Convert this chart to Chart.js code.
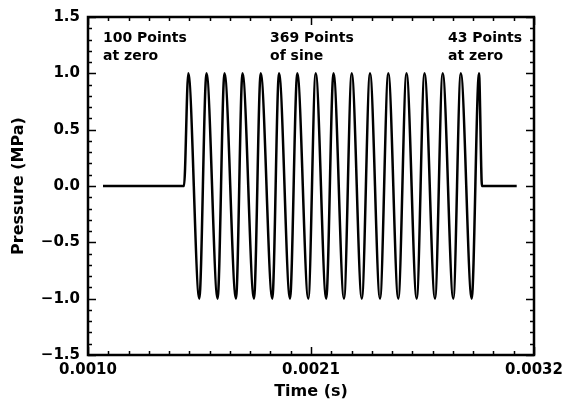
<!DOCTYPE html>
<html lang="en">
<head>
  <meta charset="UTF-8">
  <title>Pressure vs Time</title>
  <script src="https://cdn.jsdelivr.net/npm/chart.js"></script>
  <style>
    html, body { margin: 0; padding: 0; background: #fff; }
    #wrap { width: 569px; height: 403px; position: relative; }
  </style>
</head>
<body>
  <div id="wrap"><canvas id="pressureChart"></canvas></div>

  <script>
    // values: flat start, sine peaks/troughs, flat end
    const timeS = [
      0.0010740, 0.0014735,
      0.0014948, 0.0015490, 0.0015845, 0.0016393, 0.0016733, 0.0017300,
      0.0017621, 0.0018188, 0.0018519, 0.0019091, 0.0019422, 0.0019964,
      0.0020324, 0.0020867, 0.0021232, 0.0021750, 0.0022110, 0.0022628,
      0.0023008, 0.0023506, 0.0023910, 0.0024404, 0.0024813, 0.0025306,
      0.0025711, 0.0026214, 0.0026599, 0.0027117, 0.0027496, 0.0028019,
      0.0028389, 0.0028927, 0.0029287,
      0.0029435, 0.0031147
    ];
    const pressureMPa = [
      0, 0,
      1, -1, 1, -1, 1, -1,
      1, -1, 1, -1, 1, -1,
      1, -1, 1, -1, 1, -1,
      1, -1, 1, -1, 1, -1,
      1, -1, 1, -1, 1, -1,
      1, -1, 1,
      0, 0
    ];
    const xTicks = [0.0010, 0.0021, 0.0032];
    const yTicks = [-1.5, -1.0, -0.5, 0.0, 0.5, 1.0, 1.5];
    const noteTexts = [
      ['100 Points', 'at zero'],
      ['369 Points', 'of sine'],
      ['43 Points', 'at zero']
    ];

    const FONT = '"DejaVu Sans", sans-serif';

    // box with inward ticks on all four sides + the text notes
    const frameTicks = {
      id: 'frameTicks',
      afterDraw(chart, args, opts) {
        const { ctx, chartArea: a, scales: { x, y } } = chart;
        ctx.save();
        ctx.strokeStyle = '#000';
        ctx.lineWidth = 1.5;
        ctx.beginPath();
        for (let i = 0; i <= 22; i++) {
          const px = Math.round(x.getPixelForValue(0.0010 + i * 0.0001)) + 0.5;
          const len = i % 11 === 0 ? 8 : 4;
          ctx.moveTo(px, a.bottom); ctx.lineTo(px, a.bottom - len);
          ctx.moveTo(px, a.top); ctx.lineTo(px, a.top + len);
        }
        for (let i = 0; i <= 30; i++) {
          const py = Math.round(y.getPixelForValue(-1.5 + i * 0.1)) + 0.5;
          const len = i % 5 === 0 ? 8 : 4;
          ctx.moveTo(a.left, py); ctx.lineTo(a.left + len, py);
          ctx.moveTo(a.right, py); ctx.lineTo(a.right - len, py);
        }
        ctx.stroke();
        ctx.lineWidth = 2.5;
        ctx.strokeRect(a.left, a.top, a.right - a.left, a.bottom - a.top);

        ctx.fillStyle = '#000';
        ctx.font = 'bold 14px ' + FONT;
        ctx.textAlign = 'left';
        ctx.textBaseline = 'alphabetic';
        opts.anchors.forEach((p, i) => {
          const px = x.getPixelForValue(p[0]);
          const py = y.getPixelForValue(p[1]);
          noteTexts[i].forEach((line, j) => ctx.fillText(line, px, py + j * 17.5));
        });
        ctx.restore();
      }
    };

    new Chart(document.getElementById('pressureChart'), {
      type: 'scatter',
      data: {
        datasets: [{
          data: timeS.map((t, i) => ({ x: t, y: pressureMPa[i] })),
          showLine: true,
          borderColor: '#000',
          borderWidth: 2.5,
          borderJoinStyle: 'round',
          pointRadius: 0,
          cubicInterpolationMode: 'monotone'
        }]
      },
      options: {
        responsive: true,
        maintainAspectRatio: false,
        animation: false,
        layout: { padding: { top: 17, right: 35, left: 0, bottom: 0 } },
        plugins: {
          legend: { display: false },
          tooltip: { enabled: false },
          frameTicks: { anchors: [[0.0010740, 1.278], [0.0018978, 1.278], [0.0027758, 1.278]] }
        },
        scales: {
          x: {
            type: 'linear',
            min: 0.0010,
            max: 0.0032,
            afterBuildTicks: s => { s.ticks = xTicks.map(v => ({ value: v })); },
            afterFit: s => { s.height = 48; },
            grid: { display: false, drawTicks: false },
            border: { display: false },
            ticks: {
              color: '#000',
              padding: 6,
              maxRotation: 0,
              font: { family: FONT, size: 15, weight: 'bold' },
              callback: v => v.toFixed(4)
            },
            title: {
              display: true,
              text: 'Time (s)',
              color: '#000',
              padding: { top: 0, bottom: 2 },
              font: { family: FONT, size: 16, weight: 'bold' }
            }
          },
          y: {
            min: -1.5,
            max: 1.5,
            afterBuildTicks: s => { s.ticks = yTicks.map(v => ({ value: v })); },
            afterFit: s => { s.width = 88; },
            grid: { display: false, drawTicks: false },
            border: { display: false },
            ticks: {
              color: '#000',
              padding: 8,
              font: { family: FONT, size: 15, weight: 'bold' },
              callback: v => v.toFixed(1).replace('-', '\u2212')
            },
            title: {
              display: true,
              text: 'Pressure (MPa)',
              color: '#000',
              padding: { top: 9, bottom: 0 },
              font: { family: FONT, size: 16, weight: 'bold' }
            }
          }
        }
      },
      plugins: [frameTicks]
    });
  </script>
</body>
</html>
